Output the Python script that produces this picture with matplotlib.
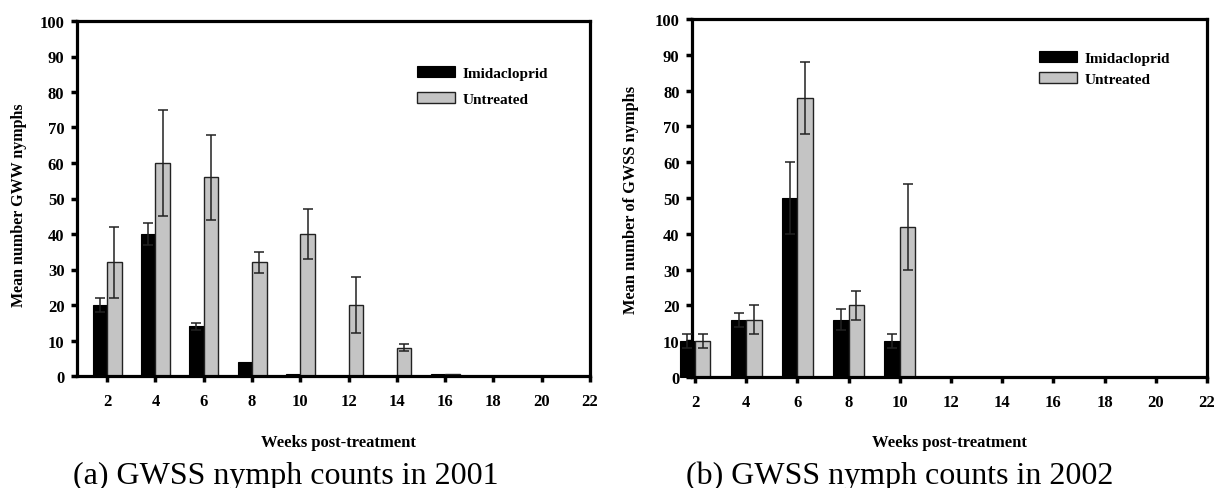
import numpy as np
import matplotlib
matplotlib.use('Agg')
import matplotlib.pyplot as plt

plt.rcParams['font.family'] = ['Liberation Serif', 'DejaVu Serif']

weeks = [2, 4, 6, 8, 10, 12, 14, 16, 18, 20]
xticks = [2, 4, 6, 8, 10, 12, 14, 16, 18, 20, 22]
yticks = [0, 10, 20, 30, 40, 50, 60, 70, 80, 90, 100]

# 2001 (a)
imid_2001 = [20, 40, 14, 4, 0.5, 0, 0, 0.5, 0, 0]
imid_2001_err = [2, 3, 1, 0, 0, 0, 0, 0, 0, 0]
untr_2001 = [32, 60, 56, 32, 40, 20, 8, 0.5, 0, 0]
untr_2001_err = [10, 15, 12, 3, 7, 8, 1, 0, 0, 0]

# 2002 (b)
imid_2002 = [10, 16, 50, 16, 10, 0, 0, 0, 0, 0]
imid_2002_err = [2, 2, 10, 3, 2, 0, 0, 0, 0, 0]
untr_2002 = [10, 16, 78, 20, 42, 0, 0, 0, 0, 0]
untr_2002_err = [2, 4, 10, 4, 12, 0, 0, 0, 0, 0]

labels = ['Imidacloprid', 'Untreated']
ylabels = ['Mean number GWW nymphs', 'Mean number of GWSS nymphs']
captions = ['(a) GWSS nymph counts in 2001', '(b) GWSS nymph counts in 2002']

W, H = 1215, 489
fig = plt.figure(figsize=(W / 100, H / 100), dpi=100)

def px_axes(x0, y0, x1, y1):
    return fig.add_axes([x0 / W, 1 - y1 / H, (x1 - x0) / W, (y1 - y0) / H])

ax1 = px_axes(77, 22, 590, 377)
ax2 = px_axes(692, 20, 1207, 378)

bw = 0.6

def draw(ax, imid, imid_err, untr, untr_err, xmin):
    x = np.array(weeks, dtype=float)
    ax.bar(x - bw / 2, imid, bw, color='black', edgecolor='black', lw=0.8,
           label=labels[0], clip_on=False, zorder=2)
    ax.bar(x + bw / 2, untr, bw, color='#c4c4c4', edgecolor='#222222', lw=1.0,
           label=labels[1], clip_on=False, zorder=2)
    for off, vals, errs in [(-bw / 2, imid, imid_err), (bw / 2, untr, untr_err)]:
        vals = np.array(vals); errs = np.array(errs)
        m = errs > 0
        ax.errorbar(x[m] + off, vals[m], yerr=errs[m], fmt='none', ecolor='#222222',
                    elinewidth=1.1, capsize=3.8, capthick=1.1, clip_on=False, zorder=3)
    ax.set_xlim(xmin, 22)
    ax.set_ylim(0, 100)
    ax.set_xticks(xticks)
    ax.set_yticks(yticks)
    for s in ax.spines.values():
        s.set_linewidth(2.3)
    ax.tick_params(direction='out', length=4, width=2.5, labelsize=12)
    ax.tick_params(axis='x', pad=8)
    ax.tick_params(axis='y', pad=5)
    for t in ax.get_xticklabels() + ax.get_yticklabels():
        t.set_fontweight('bold')

draw(ax1, imid_2001, imid_2001_err, untr_2001, untr_2001_err, 0.75)
draw(ax2, imid_2002, imid_2002_err, untr_2002, untr_2002_err, 1.88)

ax1.legend(loc='upper left', bbox_to_anchor=(0.663, 0.872), frameon=False,
           borderpad=0, borderaxespad=0, handlelength=2.5, handleheight=0.7,
           handletextpad=0.5, labelspacing=0.8, prop={'weight': 'bold', 'size': 11})
ax2.legend(loc='upper left', bbox_to_anchor=(0.674, 0.91), frameon=False,
           borderpad=0, borderaxespad=0, handlelength=2.5, handleheight=0.7,
           handletextpad=0.5, labelspacing=0.48, prop={'weight': 'bold', 'size': 11})

fig.text(19 / W, 1 - 205 / H, ylabels[0], rotation=90, ha='center', va='center',
         fontsize=11.5, fontweight='bold')
fig.text(631 / W, 1 - 200 / H, ylabels[1], rotation=90, ha='center', va='center',
         fontsize=11.8, fontweight='bold')
fig.text(338 / W, 1 - 443 / H, 'Weeks post-treatment', ha='center', va='center',
         fontsize=12, fontweight='bold')
fig.text(949 / W, 1 - 443 / H, 'Weeks post-treatment', ha='center', va='center',
         fontsize=12, fontweight='bold')
fig.text(286 / W, 1 - 476 / H, captions[0], ha='center', va='center', fontsize=23)
fig.text(900 / W, 1 - 476 / H, captions[1], ha='center', va='center', fontsize=23)

fig.savefig('out.png', dpi=100)
